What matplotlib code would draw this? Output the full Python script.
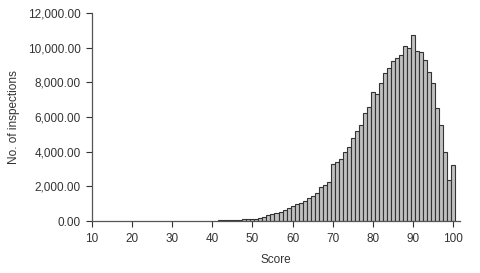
# Imports

import matplotlib.pyplot as plt
from matplotlib.ticker import FuncFormatter

# Data (score -> number of inspections)
scores = list(range(42, 101))
counts = [30, 35, 40, 45, 50, 80, 90, 100, 120, 130,
          160, 210, 340, 390, 480, 540, 640, 770, 870, 960,
          1060, 1170, 1300, 1450, 1630, 1980, 2080, 2270, 3290, 3420,
          3580, 4000, 4290, 4810, 5210, 5540, 6210, 6600, 7460, 7310,
          7940, 8520, 8810, 9230, 9380, 9600, 10070, 9960, 10750, 9810,
          9730, 9310, 8620, 7940, 6500, 5540, 4000, 2370, 3230]
x_ticks = list(range(10, 101, 10))
y_ticks = list(range(0, 12001, 2000))

plt.rcParams['font.family'] = ['Liberation Sans', 'DejaVu Sans']

fig = plt.figure(figsize=(4.8, 2.73), dpi=100)
ax = fig.add_axes([92 / 480, 1 - 221 / 273, (460 - 92) / 480, (221 - 13) / 273])

ax.bar(scores, counts, width=1.0, color='#c0c0c0', edgecolor='#333333', linewidth=0.8)

ax.set_xlim(10, 101.75)
ax.set_ylim(0, 12000)
ax.set_xticks(x_ticks)
ax.set_yticks(y_ticks)
ax.yaxis.set_major_formatter(FuncFormatter(lambda v, p: f"{v:,.2f}"))

for side in ['top', 'right']:
    ax.spines[side].set_visible(False)
for side in ['left', 'bottom']:
    ax.spines[side].set_color('#555555')
    ax.spines[side].set_linewidth(0.9)

ax.tick_params(axis='both', labelsize=8.5, colors='#333333', length=4, width=0.8, pad=4)
ax.tick_params(axis='x', pad=5)

ax.set_xlabel("Score", fontsize=8.5, color='#333333', labelpad=6)
ax.set_ylabel("No. of inspections", fontsize=8.5, color='#333333', labelpad=6)

fig.savefig("out.png", dpi=100)
